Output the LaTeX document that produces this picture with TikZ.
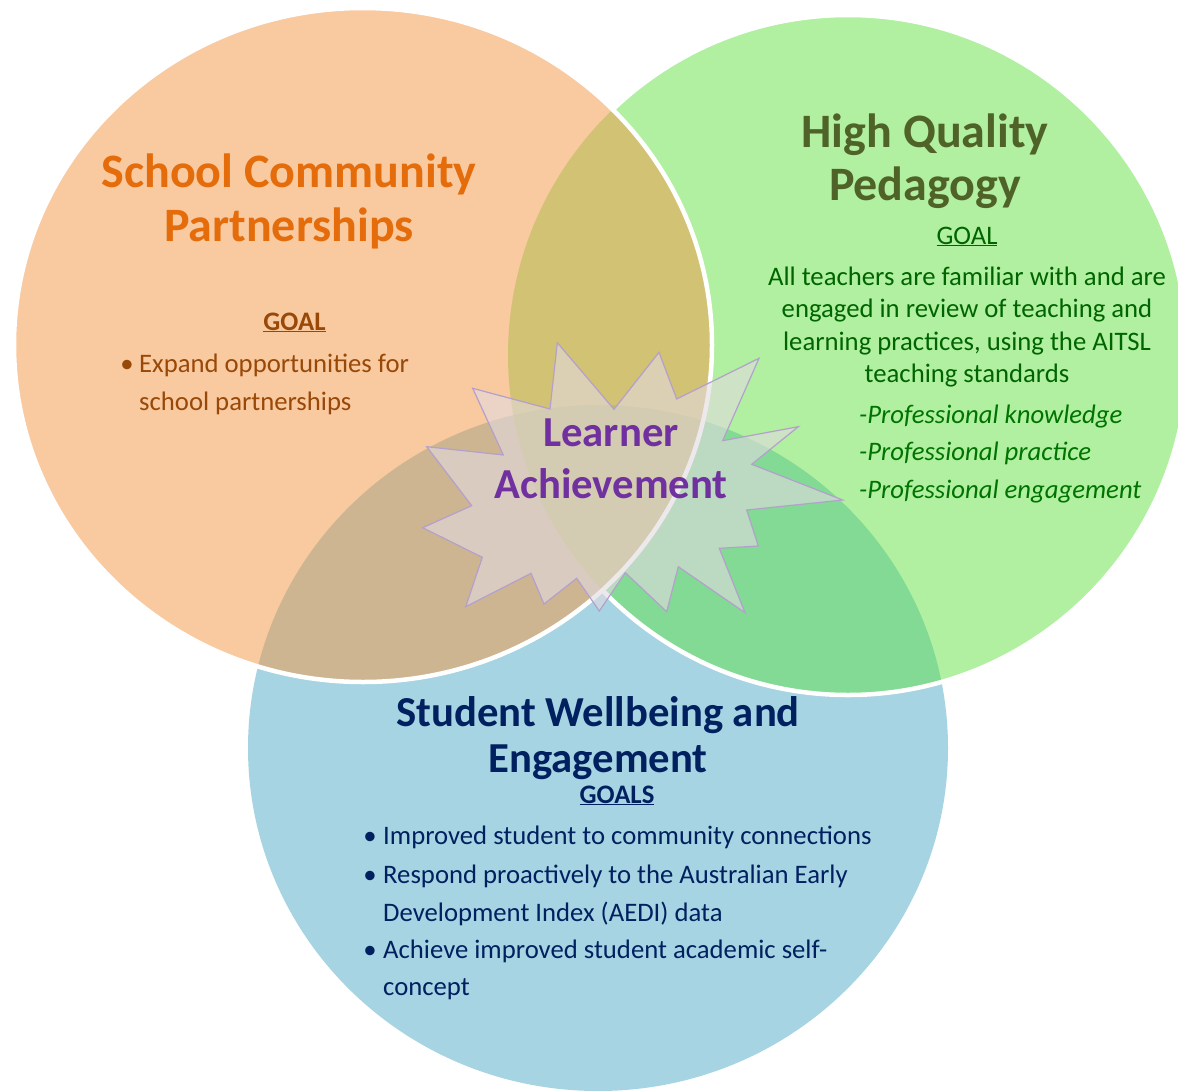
\documentclass[tikz,border=0pt]{standalone}
\usepackage{fontspec}
\setmainfont{Carlito}
\definecolor{blueC}{RGB}{166,212,226}
\definecolor{greenC}{RGB}{176,240,160}
\definecolor{orangeC}{RGB}{249,201,160}
\definecolor{greenblue}{RGB}{130,218,148}
\definecolor{orangeblue}{RGB}{205,181,146}
\definecolor{orangegreen}{RGB}{210,194,115}
\definecolor{tripleC}{RGB}{190,184,110}
\definecolor{starfill}{RGB}{226,218,224}
\definecolor{starline}{RGB}{180,160,205}
\definecolor{orangeT}{RGB}{228,108,10}
\definecolor{brownT}{RGB}{152,72,7}
\definecolor{oliveT}{RGB}{79,98,40}
\definecolor{greenT}{RGB}{0,100,0}
\definecolor{greenI}{RGB}{0,115,0}
\definecolor{purpleT}{RGB}{112,48,160}
\definecolor{navyT}{RGB}{0,32,96}
\begin{document}
\begin{tikzpicture}[x=1pt,y=-1pt,
  bigtitle/.style={inner sep=0pt, anchor=base, font=\fontsize{48}{56}\selectfont\bfseries},
  midtitle/.style={inner sep=0pt, anchor=base, font=\fontsize{42.7}{50}\selectfont\bfseries},
  bodytxt/.style={inner sep=0pt, anchor=base, font=\fontsize{26.7}{32}\selectfont},
  leftbody/.style={bodytxt, anchor=base west},
  bord/.style={draw=white, line width=4.5pt}]
\clip (0,0) rectangle (1178,1090);
\fill[white] (0,0) rectangle (1178,1090);
\coordinate (oc) at (363,345);
\coordinate (gc) at (848,355);
\coordinate (bc) at (598,748);
% blue circle
\fill[blueC] (bc) ellipse [x radius=350, y radius=343];
% green circle
\fill[greenC] (gc) ellipse [x radius=340, y radius=340];
\begin{scope}
  \clip (gc) ellipse [x radius=340, y radius=340];
  \fill[greenblue] (bc) ellipse [x radius=350, y radius=343];
\end{scope}
\draw[bord] (gc) ellipse [x radius=340, y radius=340];
% orange circle
\fill[orangeC] (oc) ellipse [x radius=349, y radius=337];
\begin{scope}
  \clip (oc) ellipse [x radius=349, y radius=337];
  \fill[orangeblue] (bc) ellipse [x radius=350, y radius=343];
  \fill[orangegreen] (gc) ellipse [x radius=340, y radius=340];
  \clip (gc) ellipse [x radius=340, y radius=340];
  \fill[tripleC] (bc) ellipse [x radius=350, y radius=343];
\end{scope}
\draw[bord] (oc) ellipse [x radius=349, y radius=337];
% star
\draw[draw=starline, line width=1.2pt, fill=starfill, fill opacity=0.6, line join=miter]
  (557.3,342.7) -- (614,409.3) -- (659,352.3) -- (676.7,399) -- (759,358.3) --
  (722.7,440.7) -- (798.3,426.7) -- (751.7,464.3) -- (842.7,500) -- (746.7,510) --
  (758.3,546) -- (719.3,548.3) -- (745,612.7) -- (678.3,566.7) -- (666.7,611.7) --
  (625.3,572.7) -- (599.3,611) -- (576.7,578.3) -- (544,604) -- (531,573.3) --
  (465.7,606.7) -- (482.3,557.3) -- (422.7,527.7) -- (471.7,505.7) -- (426.7,446.7) --
  (503.3,455) -- (472.7,388.3) -- (550,409) -- cycle;
% School Community Partnerships
\node[bigtitle, text=orangeT] (scp1) at (289,187) {School Community};
\node[bigtitle, text=orangeT] (scp2) at (289,241) {Partnerships};
\node[bodytxt, text=brownT, font=\fontsize{26.7}{32}\selectfont\bfseries] (sgoal) at (294.5,330) {\underline{GOAL}};
\node[bodytxt, text=brownT] (sb1) at (127,372) {•};
\node[leftbody, text=brownT] (st1) at (139,372) {Expand opportunities for};
\node[leftbody, text=brownT] (st2) at (139,410) {school partnerships};
% High Quality Pedagogy
\node[bigtitle, text=oliveT] (hq1) at (925,147) {High Quality};
\node[bigtitle, text=oliveT] (hq2) at (925,200) {Pedagogy};
\node[bodytxt, text=greenT] (hgoal) at (967,244) {\underline{GOAL}};
\node[bodytxt, text=greenT] (ht1) at (967,285) {All teachers are familiar with and are};
\node[bodytxt, text=greenT] (ht2) at (967,317) {engaged in review of teaching and};
\node[bodytxt, text=greenT] (ht3) at (967,350) {learning practices, using the AITSL};
\node[bodytxt, text=greenT] (ht4) at (967,382) {teaching standards};
\node[leftbody, text=greenI, font=\fontsize{26.7}{32}\selectfont\itshape] (hp1) at (859,423) {-Professional knowledge};
\node[leftbody, text=greenI, font=\fontsize{26.7}{32}\selectfont\itshape] (hp2) at (859,460) {-Professional practice};
\node[leftbody, text=greenI, font=\fontsize{26.7}{32}\selectfont\itshape] (hp3) at (859,498) {-Professional engagement};
% Learner Achievement
\node[midtitle, text=purpleT] (la1) at (611,446) {Learner};
\node[midtitle, text=purpleT] (la2) at (611,498) {Achievement};
% Student Wellbeing and Engagement
\node[midtitle, text=navyT] (sw1) at (598,726) {Student Wellbeing and};
\node[midtitle, text=navyT] (sw2) at (598,772) {Engagement};
\node[bodytxt, text=navyT, font=\fontsize{26.7}{32}\selectfont\bfseries] (wgoal) at (617,803) {\underline{GOALS}};
\node[bodytxt, text=navyT] (wb1) at (370,844) {•};
\node[leftbody, text=navyT] (wt1) at (383,844) {Improved student to community connections};
\node[bodytxt, text=navyT] (wb2) at (370,883) {•};
\node[leftbody, text=navyT] (wt2) at (383,883) {Respond proactively to the Australian Early};
\node[leftbody, text=navyT] (wt3) at (383,921) {Development Index (AEDI) data};
\node[bodytxt, text=navyT] (wb3) at (370,958) {•};
\node[leftbody, text=navyT] (wt4) at (383,958) {Achieve improved student academic self-};
\node[leftbody, text=navyT] (wt5) at (383,995) {concept};
\end{tikzpicture}
\end{document}
